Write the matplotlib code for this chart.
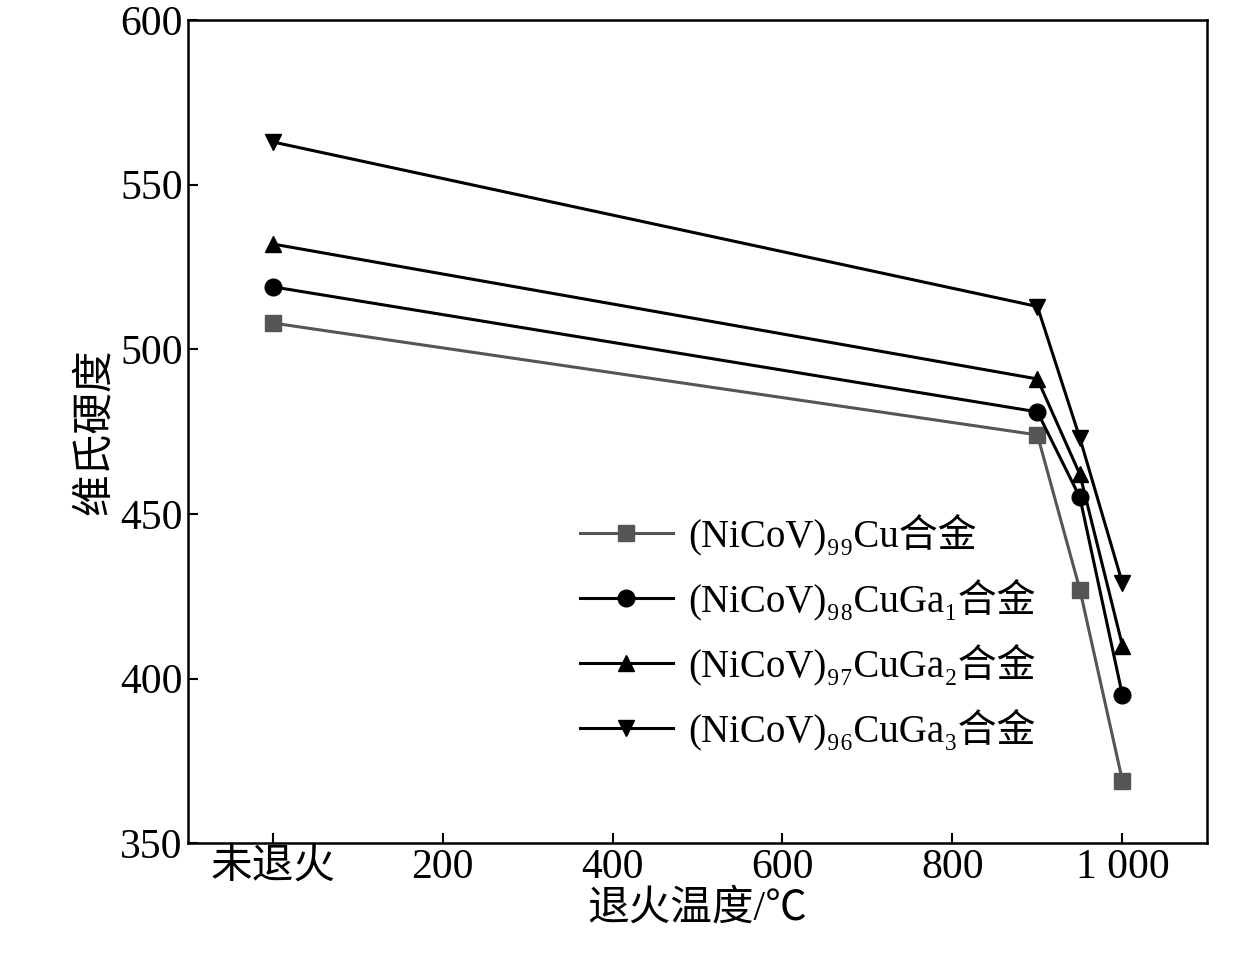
import matplotlib
matplotlib.use("Agg")
import matplotlib.pyplot as plt

plt.rcParams['font.family'] = ['Liberation Serif', 'Noto Sans CJK SC', 'DejaVu Serif']

temps = [0, 900, 950, 1000]
hv_cu = [508, 474, 427, 369]
hv_ga1 = [519, 481, 455, 395]
hv_ga2 = [532, 491, 462, 410]
hv_ga3 = [563, 513, 473, 429]
labels = ["(NiCoV)₉₉Cu合金", "(NiCoV)₉₈CuGa₁合金",
          "(NiCoV)₉₇CuGa₂合金", "(NiCoV)₉₆CuGa₃合金"]
xticks = [0, 200, 400, 600, 800, 1000]
xticklabels = ["未退火", "200", "400", "600", "800", "1 000"]

fig = plt.figure(figsize=(12.59, 9.56), dpi=100)
ax = fig.add_axes([0.149, 0.118, 0.81, 0.861])
series = [(hv_cu, "s", "#555555"), (hv_ga1, "o", "black"),
          (hv_ga2, "^", "black"), (hv_ga3, "v", "black")]
for (vals, m, c), lab in zip(series, labels):
    ax.plot(temps, vals, marker=m, color=c, lw=2.2, ms=12, label=lab)

ax.set_xlim(-100, 1100)
ax.set_ylim(350, 600)
ax.set_xticks(xticks)
ax.set_xticklabels(xticklabels)
ax.set_yticks([350, 400, 450, 500, 550, 600])
ax.tick_params(direction="in", labelsize=30, length=7, width=1.5)
for s in ax.spines.values():
    s.set_linewidth(1.8)
ax.set_xlabel("退火温度/℃", fontsize=30, labelpad=2)
ax.set_ylabel("维氏硬度", fontsize=30)
ax.legend(loc="lower left", bbox_to_anchor=(0.35, 0.07), frameon=False,
          fontsize=28, handlelength=2.4, handletextpad=0.4, labelspacing=0.6)
fig.savefig("out.png")
